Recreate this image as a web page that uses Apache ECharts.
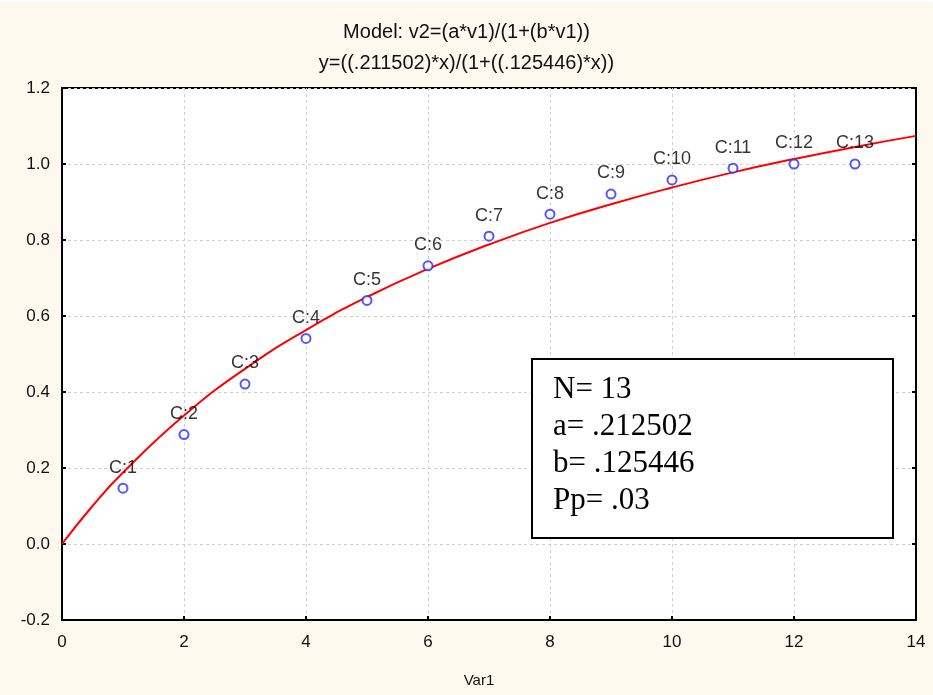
<!DOCTYPE html>
<html>
<head>
<meta charset="utf-8">
<script src="https://cdn.jsdelivr.net/npm/echarts@6/dist/echarts.min.js"></script>
<style>
html,body{margin:0;padding:0;background:#fdf9ee;}
#chart{width:933px;height:695px;}
</style>
</head>
<body>
<div id="chart"></div>
<script>
// Observed cases
var caseX = [1, 2, 3, 4, 5, 6, 7, 8, 9, 10, 11, 12, 13];
var caseY = [0.147, 0.288, 0.421, 0.541, 0.641, 0.732, 0.810, 0.868, 0.921, 0.958, 0.989, 1.000, 1.000];
var caseLabels = ['C:1','C:2','C:3','C:4','C:5','C:6','C:7','C:8','C:9','C:10','C:11','C:12','C:13'];
// Fitted curve
var fitX = [0, 0.5, 1, 2, 3, 4, 5, 6, 7, 8, 9, 10, 11, 12, 13, 14];
var fitY = [0, 0.100, 0.188, 0.338, 0.461, 0.563, 0.650, 0.724, 0.788, 0.845, 0.894, 0.938, 0.978, 1.013, 1.045, 1.074];
// Ticks
var xTicks = [0, 2, 4, 6, 8, 10, 12, 14];
var yTicks = [-0.2, 0.0, 0.2, 0.4, 0.6, 0.8, 1.0, 1.2];
// Texts
var titleLines = ['Model: v2=(a*v1)/(1+(b*v1))', 'y=((.211502)*x)/(1+((.125446)*x))'];
var statLines = ['N= 13', 'a= .212502', 'b= .125446', 'Pp= .03'];
var xName = 'Var1';

var chart = echarts.init(document.getElementById('chart'));
var scatterData = caseX.map(function (x, i) { return { value: [x, caseY[i]], name: caseLabels[i] }; });
var fitData = fitX.map(function (x, i) { return [x, fitY[i]]; });

var statText = statLines.map(function (t, i) {
  return { type: 'text', left: 553, top: 374 + i * 37, z: 101,
    style: { text: t, font: '31px "Liberation Serif", "Times New Roman", serif', fill: '#000' } };
});

var sans = 'Liberation Sans, Arial, sans-serif';

chart.setOption({
  backgroundColor: '#fdf9ee',
  animation: false,
  title: [
    { text: titleLines[0], left: 'center', top: 17, textStyle: { fontFamily: sans, fontSize: 20, fontWeight: 'normal', color: '#111' } },
    { text: titleLines[1], left: 'center', top: 48, textStyle: { fontFamily: sans, fontSize: 20, fontWeight: 'normal', color: '#111' } }
  ],
  grid: { left: 62, right: 17, top: 88, bottom: 75, show: true, backgroundColor: '#fff', borderColor: '#000', borderWidth: 2, containLabel: false },
  xAxis: {
    type: 'value', min: xTicks[0], max: xTicks[xTicks.length - 1], interval: 2,
    name: xName, nameLocation: 'middle', nameGap: 53,
    nameTextStyle: { fontFamily: sans, fontSize: 15, color: '#111', padding: [0, 20, 0, 0] },
    axisLine: { show: true, onZero: false, lineStyle: { color: '#000', width: 2 } },
    axisTick: { show: true, inside: true, length: 4, lineStyle: { color: '#000', width: 2 } },
    axisLabel: { fontFamily: sans, fontSize: 17, color: '#111', margin: 14 },
    splitLine: { show: true, lineStyle: { color: '#cfcfcf', type: [3, 3], width: 1 } }
  },
  yAxis: [{
    type: 'value', min: yTicks[0], max: yTicks[yTicks.length - 1], interval: 0.2,
    axisLine: { show: true, onZero: false, lineStyle: { color: '#000', width: 2 } },
    axisTick: { show: true, inside: true, length: 4, lineStyle: { color: '#000', width: 2 } },
    axisLabel: { fontFamily: sans, fontSize: 17, color: '#111', margin: 12,
      formatter: function (v) { return v.toFixed(1); } },
    splitLine: { show: true, lineStyle: { color: '#cfcfcf', type: [3, 3], width: 1 } }
  }, {
    type: 'value', position: 'right', min: yTicks[0], max: yTicks[yTicks.length - 1], interval: 0.2,
    axisLine: { show: true, onZero: false, lineStyle: { color: '#000', width: 2 } },
    axisTick: { show: true, inside: true, length: 4, lineStyle: { color: '#000', width: 2 } },
    axisLabel: { show: false }, splitLine: { show: false }
  }],
  series: [
    {
      type: 'line', data: fitData, smooth: true, showSymbol: false, symbol: 'none',
      lineStyle: { color: '#ff0000', width: 2 }, z: 3
    },
    {
      type: 'scatter', data: scatterData, symbol: 'emptyCircle', symbolSize: 9,
      itemStyle: { color: '#2a2aff', borderColor: '#2a2aff', borderWidth: 1 },
      label: { show: true, position: 'top', distance: 6, formatter: '{b}',
        fontFamily: sans, fontSize: 18, color: '#000' },
      z: 4
    }
  ],
  graphic: [
    { type: 'rect', shape: { x: 0, y: 0, width: 933, height: 2 }, z: 100, style: { fill: '#fff' } },
    { type: 'rect', shape: { x: 532, y: 359, width: 361, height: 179 }, z: 100,
      style: { fill: '#fff', stroke: '#000', lineWidth: 2 } }
  ].concat(statText)
});
</script>
</body>
</html>
